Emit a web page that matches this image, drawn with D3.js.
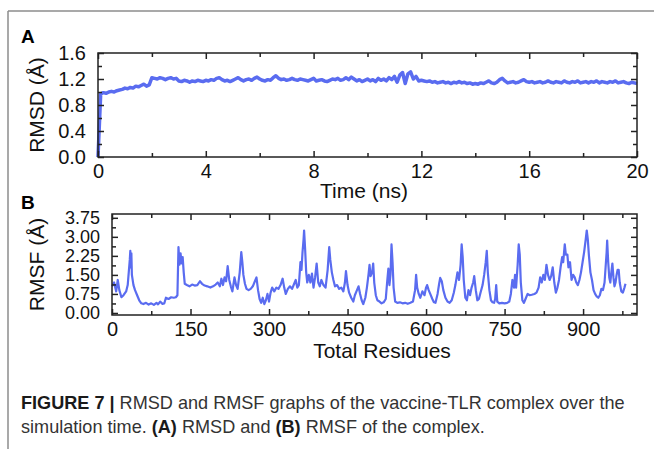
<!DOCTYPE html>
<html><head><meta charset="utf-8">
<script src="https://cdn.jsdelivr.net/npm/d3@7"></script>
<style>body{margin:0;background:#fff}svg{display:block}</style>
</head><body>
<svg id="chart" width="654" height="449"></svg>
<script>
// ---- Data ----
const rmsdTimeStep = 0.1; // ns
const rmsdValues = [
 0.00,0.97,0.99,0.98,1.00,1.01,1.00,1.02,1.03,1.04,1.06,1.05,1.07,1.06,1.09,1.08,1.10,1.12,1.09,1.11,
 1.22,1.21,1.20,1.22,1.21,1.19,1.21,1.22,1.20,1.21,1.17,1.16,1.18,1.17,1.15,1.17,1.16,1.18,1.17,1.16,
 1.18,1.17,1.19,1.18,1.21,1.22,1.19,1.17,1.18,1.16,1.18,1.20,1.22,1.19,1.17,1.19,1.20,1.18,1.21,1.23,
 1.20,1.18,1.17,1.19,1.18,1.22,1.25,1.21,1.19,1.20,1.18,1.19,1.21,1.19,1.18,1.20,1.19,1.18,1.17,1.19,
 1.21,1.17,1.18,1.19,1.17,1.16,1.18,1.20,1.19,1.21,1.18,1.19,1.22,1.19,1.23,1.20,1.17,1.19,1.16,1.18,
 1.20,1.17,1.19,1.16,1.21,1.18,1.20,1.17,1.22,1.19,1.24,1.15,1.26,1.30,1.13,1.28,1.31,1.20,1.24,1.17,
 1.18,1.17,1.16,1.17,1.15,1.16,1.14,1.15,1.16,1.14,1.15,1.13,1.15,1.14,1.16,1.14,1.15,1.13,1.14,1.12,
 1.13,1.12,1.14,1.13,1.15,1.17,1.14,1.13,1.15,1.19,1.21,1.17,1.14,1.15,1.16,1.14,1.15,1.17,1.19,1.16,
 1.15,1.16,1.14,1.15,1.16,1.14,1.15,1.17,1.15,1.14,1.16,1.15,1.14,1.17,1.15,1.14,1.16,1.15,1.17,1.14,
 1.15,1.16,1.14,1.16,1.15,1.17,1.14,1.16,1.15,1.14,1.16,1.15,1.17,1.14,1.15,1.16,1.14,1.13,1.15,1.14,
 1.13
];
const rmsdTicks = [0, 4, 8, 12, 16, 20];
const rmsdYTicks = [0.0, 0.4, 0.8, 1.2, 1.6];

const rmsfResidues = [
 0,4,8,11,14,18,22,27,30,32,
 34,35,36,37,38,41,44,48,52,56,
 60,65,70,75,80,85,88,92,96,100,
 103,108,113,118,122,125,127,129,131,133,
 135,137,139,143,148,153,158,163,168,172,
 177,182,188,193,198,202,206,209,212,215,
 218,221,224,227,230,234,237,240,244,247,
 249,251,254,257,261,265,269,273,276,279,
 282,285,288,291,294,297,300,303,306,310,
 314,318,322,326,329,332,336,340,344,348,
 351,354,357,360,362,364,366,367,369,371,
 373,376,379,382,385,388,391,394,397,400,
 404,408,412,415,417,420,423,426,430,434,
 438,442,445,447,450,453,457,461,464,468,
 471,474,477,480,484,487,490,492,494,497,
 499,501,504,507,511,515,519,523,526,528,
 530,532,534,536,538,541,545,550,555,560,
 565,570,575,579,581,583,586,589,593,597,
 600,602,605,608,612,615,618,622,625,627,
 630,633,637,641,645,649,653,656,660,663,
 666,668,670,672,675,678,681,684,687,690,
 692,695,698,701,704,708,711,714,716,718,
 721,724,727,730,732,734,736,740,745,750,
 755,759,762,765,768,770,772,775,777,779,
 781,784,787,790,794,798,802,807,811,815,
 818,821,824,827,830,833,836,839,842,845,
 848,851,854,857,860,862,865,867,870,872,
 875,878,881,884,887,890,893,896,899,902,
 905,907,909,911,914,917,920,923,926,929,
 932,935,938,941,943,945,946,948,950,952,
 954,956,958,960,962,964,966,968,970,973,
 976,979,981
];
const rmsfValues = [
 1.05,1.2,0.85,1.3,0.9,0.62,0.7,0.85,1.1,1.6,
 2.1,2.45,1.8,2.35,1.5,1.1,0.9,0.7,0.5,0.38,
 0.35,0.4,0.33,0.38,0.32,0.4,0.34,0.45,0.36,0.38,
 0.6,0.55,0.62,0.6,0.62,0.7,2.6,1.9,2.35,1.95,
 2.2,1.6,1.15,1.1,1.05,1.12,1.08,1.1,1.25,1.15,
 1.08,1.05,1.0,1.05,1.12,1.2,1.05,1.35,1.1,1.4,
 1.25,1.85,1.3,1.05,0.85,1.4,1.1,0.95,1.6,2.4,
 2.0,1.5,1.15,0.95,0.9,0.95,1.05,1.25,1.4,0.9,
 0.55,0.4,0.6,0.35,0.5,0.75,0.45,0.8,1.0,0.85,
 1.0,0.95,1.1,1.35,1.0,0.75,0.95,1.05,0.95,1.15,
 1.3,1.0,1.1,2.0,1.7,2.4,2.9,3.25,2.5,1.6,
 1.2,1.5,1.2,1.55,1.0,1.4,1.95,1.2,1.05,1.3,
 1.1,1.0,1.7,2.6,2.1,1.6,1.3,1.05,1.1,0.95,
 1.0,0.85,1.2,1.65,1.1,0.8,0.6,0.45,0.7,0.9,
 1.05,0.75,0.5,0.35,0.6,1.0,1.5,1.9,1.45,1.6,
 1.95,1.2,0.7,0.5,0.45,0.38,0.42,0.55,1.3,1.75,
 1.1,1.5,2.7,2.0,1.0,0.45,0.4,0.42,0.38,0.4,
 0.36,0.4,0.45,0.9,1.5,1.0,0.75,0.6,0.85,0.7,
 1.0,1.1,0.9,0.75,0.55,0.42,0.4,0.75,1.15,1.38,
 1.25,0.9,0.6,0.45,0.4,0.5,0.8,1.1,1.6,1.3,
 1.9,2.7,2.2,1.3,0.6,0.5,0.9,0.7,1.0,1.2,
 1.45,0.9,0.5,0.55,0.8,1.1,1.5,2.0,2.45,1.6,
 0.9,0.5,0.42,0.4,0.55,1.1,0.45,0.38,0.4,0.38,
 0.4,0.45,0.75,1.3,1.0,1.5,1.0,1.9,2.7,2.3,
 1.2,0.5,0.4,0.55,0.75,0.7,0.72,0.75,0.8,1.0,
 1.4,1.2,1.5,1.3,1.9,1.5,1.3,1.45,1.8,1.2,
 0.8,1.0,1.3,1.8,2.2,2.0,2.7,2.3,2.3,1.8,
 2.0,1.3,1.5,1.4,1.2,1.1,1.3,1.6,2.0,2.4,
 2.9,3.25,2.9,2.3,1.6,1.3,0.9,0.75,0.65,0.6,
 0.7,0.95,0.9,1.2,1.8,2.4,2.85,2.0,1.4,1.2,
 1.6,1.95,1.4,1.05,1.2,1.5,1.7,1.7,1.2,0.85,
 0.8,1.0,1.15
];
const rmsfTicks = [0, 150, 300, 450, 600, 750, 900];
const rmsfYTicks = [0.00, 0.75, 1.50, 2.25, 3.00, 3.75];

const captionLine1 = [["FIGURE 7 |", true], [" RMSD and RMSF graphs of the vaccine-TLR complex over the", false]];
const captionLine2 = [["simulation time. ", false], ["(A)", true], [" RMSD and ", false], ["(B)", true], [" RMSF of the complex.", false]];

// ---- Drawing ----
const svg = d3.select("#chart");
const lineColor = "#5a6cf0";
const font = "'Liberation Sans', Arial, Helvetica, sans-serif";

svg.append("line").attr("x1", 8).attr("y1", 11).attr("x2", 654).attr("y2", 11)
  .attr("stroke", "#8c8c8c").attr("stroke-width", 1.5);
svg.append("line").attr("x1", 8).attr("y1", 11).attr("x2", 8).attr("y2", 449)
  .attr("stroke", "#8c8c8c").attr("stroke-width", 1.5);

function panel(opt) {
  const g = svg.append("g");
  const x = d3.scaleLinear().domain(opt.xDomain).range([opt.left, opt.right]);
  const y = d3.scaleLinear().domain(opt.yDomain).range([opt.bottom, opt.top]);

  g.append("path")
    .datum(opt.data)
    .attr("fill", "none")
    .attr("stroke", lineColor)
    .attr("stroke-width", opt.lw)
    .attr("stroke-linejoin", "round")
    .attr("d", d3.line().x(d => x(d[0])).y(d => y(d[1])));

  g.append("rect").attr("x", opt.left).attr("y", opt.top)
    .attr("width", opt.right - opt.left).attr("height", opt.bottom - opt.top)
    .attr("fill", "none").attr("stroke", "#222").attr("stroke-width", 1.5);

  const tickStyle = s => s.call(a => a.select(".domain").remove())
      .call(a => a.selectAll("line").attr("stroke", "#222").attr("stroke-width", 1.5));

  g.append("g").attr("transform", `translate(0,${opt.bottom})`)
    .call(d3.axisBottom(x).tickValues(opt.xTicks).tickSize(-6).tickPadding(10).tickFormat(d3.format("d")))
    .call(tickStyle)
    .call(a => a.selectAll("text").attr("font-family", font).attr("font-size", 20).attr("fill", "#111").attr("dy", "0.55em"));
  g.append("g").attr("transform", `translate(0,${opt.bottom})`)
    .call(d3.axisBottom(x).tickValues(opt.xMinor).tickSize(-4).tickFormat(""))
    .call(tickStyle);
  g.append("g").attr("transform", `translate(0,${opt.top})`)
    .call(d3.axisTop(x).tickValues(opt.xTicks).tickSize(-6).tickFormat(""))
    .call(tickStyle);
  g.append("g").attr("transform", `translate(0,${opt.top})`)
    .call(d3.axisTop(x).tickValues(opt.xMinor).tickSize(-4).tickFormat(""))
    .call(tickStyle);

  g.append("g").attr("transform", `translate(${opt.left},0)`)
    .call(d3.axisLeft(y).tickValues(opt.yTicks).tickSize(-6).tickPadding(12).tickFormat(opt.yFormat))
    .call(tickStyle)
    .call(a => a.selectAll("text").attr("font-family", font).attr("font-size", opt.yFont).attr("fill", "#111"));
  g.append("g").attr("transform", `translate(${opt.left},0)`)
    .call(d3.axisLeft(y).tickValues(opt.yMinor).tickSize(-4).tickFormat(""))
    .call(tickStyle);
  g.append("g").attr("transform", `translate(${opt.right},0)`)
    .call(d3.axisRight(y).tickValues(opt.yTicks).tickSize(-6).tickFormat(""))
    .call(tickStyle);
  g.append("g").attr("transform", `translate(${opt.right},0)`)
    .call(d3.axisRight(y).tickValues(opt.yMinor).tickSize(-4).tickFormat(""))
    .call(tickStyle);

  g.append("text").attr("x", opt.xTitleX).attr("y", opt.xTitleY)
    .attr("text-anchor", "middle").attr("font-family", font).attr("font-size", 21).attr("fill", "#111")
    .text(opt.xTitle);
  g.append("text").attr("transform", `translate(${opt.yTitleX},${(opt.top + opt.bottom) / 2}) rotate(-90)`)
    .attr("text-anchor", "middle").attr("font-family", font).attr("font-size", 21).attr("fill", "#111")
    .text(opt.yTitle);
  g.append("text").attr("x", 21).attr("y", opt.letterY)
    .attr("font-family", font).attr("font-weight", "bold").attr("font-size", 19).attr("fill", "#000")
    .text(opt.letter);
}

const rmsdData = rmsdValues.map((v, i) => [i * rmsdTimeStep, v]);
panel({
  data: rmsdData, lw: 3.5,
  xDomain: [0, 20], yDomain: [0, 1.6],
  left: 98, right: 637, top: 53, bottom: 157,
  xTicks: rmsdTicks, xMinor: [2, 6, 10, 14, 18],
  yTicks: rmsdYTicks, yMinor: [0.2, 0.6, 1.0, 1.4],
  yFormat: d3.format(".1f"), yFont: 20,
  xTitle: "Time (ns)", xTitleX: 364, xTitleY: 198,
  yTitle: "RMSD (Å)", yTitleX: 44,
  letter: "A", letterY: 43
});

const rmsfData = rmsfResidues.map((r, i) => [r, rmsfValues[i]]);
panel({
  data: rmsfData, lw: 2.2,
  xDomain: [0, 1003], yDomain: [-0.08, 3.9],
  left: 112, right: 637, top: 214, bottom: 315,
  xTicks: rmsfTicks, xMinor: [75, 225, 375, 525, 675, 825, 975],
  yTicks: rmsfYTicks, yMinor: [0.375, 1.125, 1.875, 2.625, 3.375],
  yFormat: d3.format(".2f"), yFont: 18,
  xTitle: "Total Residues", xTitleX: 382, xTitleY: 358,
  yTitle: "RMSF (Å)", yTitleX: 44,
  letter: "B", letterY: 209
});

// caption: natural text, horizontally condensed so line 1 matches the reference width
function makeLine(parts, yBase) {
  const g = svg.append("g");
  const t = g.append("text").attr("x", 0).attr("y", 0)
    .attr("font-family", font).attr("font-size", 17.5).attr("fill", "#333");
  parts.forEach(([s, b]) => {
    t.append("tspan").attr("font-weight", b ? "bold" : null).attr("fill", b ? "#1a1a1a" : null).text(s);
  });
  return {g, w: t.node().getComputedTextLength(), yBase};
}
const l1 = makeLine(captionLine1, 409);
const l2 = makeLine(captionLine2, 433);
const k = 604 / l1.w;
[l1, l2].forEach(l => l.g.attr("transform", `translate(21,${l.yBase}) scale(${k},1)`));
</script>
</body></html>
